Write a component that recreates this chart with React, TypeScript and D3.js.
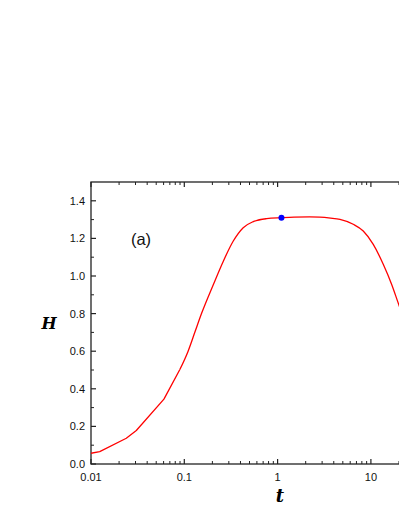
import React from "react";
import * as d3 from "d3";

// curve H(t)
const tValues = [0.01, 0.0124, 0.0239, 0.0306, 0.0605, 0.0893, 0.1096, 0.13, 0.154, 0.205, 0.262, 0.335, 0.428, 0.548, 0.762, 1.1, 1.5, 2.2, 2.84, 3.7, 4.66, 6.47, 8.28, 10.6, 13.6, 16.7, 19.6, 24];
const hValues = [0.057, 0.066, 0.137, 0.178, 0.345, 0.501, 0.599, 0.702, 0.804, 0.955, 1.079, 1.186, 1.257, 1.289, 1.305, 1.31, 1.313, 1.314, 1.313, 1.308, 1.301, 1.275, 1.239, 1.168, 1.061, 0.955, 0.857, 0.735];
// below this t the trace is a plain polyline
const tSmoothFrom = 0.0893;

// highlighted point
const markT = [1.1];
const markH = [1.31];

// axes
const xMajor = [0.01, 0.1, 1, 10];
const xLabels = ["0.01", "0.1", "1", "10"];
const xLimits = [0.01, 40];
const yMajor = [0, 0.2, 0.4, 0.6, 0.8, 1.0, 1.2, 1.4];
const yLimits = [0, 1.5];

export default function App() {
  const width = 399;
  const height = 516;
  const left = 91;
  const top = 182;
  const bottom = 464;
  const decade = 93.3;

  const x = d3
    .scaleLog()
    .domain(xLimits)
    .range([left, left + decade * Math.log10(xLimits[1] / xLimits[0])]);
  const y = d3.scaleLinear().domain(yLimits).range([bottom, top]);
  const right = x(xLimits[1]);

  // minor ticks 2..9 in each decade
  const xMinor: number[] = [];
  xMajor.forEach((m) => {
    for (let k = 2; k <= 9; k++) if (m * k < xLimits[1]) xMinor.push(m * k);
  });
  const yMinor = d3.range(0.1, 1.5, 0.2);

  const data = tValues.map((t, i) => [t, hValues[i]] as [number, number]);
  const lowPart = data.filter((d) => d[0] <= tSmoothFrom);
  const highPart = data.filter((d) => d[0] >= tSmoothFrom);
  const linear = d3
    .line<[number, number]>()
    .x((d) => x(d[0]))
    .y((d) => y(d[1]));
  const smooth = d3
    .line<[number, number]>()
    .x((d) => x(d[0]))
    .y((d) => y(d[1]))
    .curve(d3.curveMonotoneX);

  const axisColor = "#222";
  const font = "Arial, 'Liberation Sans', sans-serif";
  const serif = "'DejaVu Serif', 'Liberation Serif', serif";

  return (
    <svg
      width={width}
      height={height}
      style={{ position: "absolute", left: 0, top: 0, background: "#fff" }}
    >
      <defs>
        <clipPath id="plot">
          <rect x={left} y={top} width={right - left} height={bottom - top} />
        </clipPath>
      </defs>

      {/* frame */}
      <rect x={left} y={top} width={right - left} height={bottom - top} fill="none" stroke={axisColor} strokeWidth={1.3} />

      {/* x ticks, bottom and top, inward */}
      {xMajor.map((v) => (
        <g key={"xM" + v}>
          <line x1={x(v)} x2={x(v)} y1={bottom} y2={bottom - 5} stroke={axisColor} strokeWidth={1.2} />
          <line x1={x(v)} x2={x(v)} y1={top} y2={top + 5} stroke={axisColor} strokeWidth={1.2} />
        </g>
      ))}
      {xMinor.map((v) => (
        <g key={"xm" + v}>
          <line x1={x(v)} x2={x(v)} y1={bottom} y2={bottom - 3} stroke={axisColor} strokeWidth={1} />
          <line x1={x(v)} x2={x(v)} y1={top} y2={top + 3} stroke={axisColor} strokeWidth={1} />
        </g>
      ))}
      {xMajor.map((v, i) => (
        <text key={"xl" + v} x={x(v)} y={bottom + 17} textAnchor="middle" fontFamily={font} fontSize={11} fill="#111">
          {xLabels[i]}
        </text>
      ))}

      {/* y ticks, inward */}
      {yMajor.map((v) => (
        <g key={"yM" + v}>
          <line x1={left} x2={left + 5} y1={y(v)} y2={y(v)} stroke={axisColor} strokeWidth={1.2} />
          <text x={left - 6} y={y(v) + 4} textAnchor="end" fontFamily={font} fontSize={11} fill="#111">
            {v.toFixed(1)}
          </text>
        </g>
      ))}
      {yMinor.map((v) => (
        <line key={"ym" + v} x1={left} x2={left + 3} y1={y(v)} y2={y(v)} stroke={axisColor} strokeWidth={1} />
      ))}

      {/* axis titles */}
      <text x={49} y={329} textAnchor="middle" fontFamily={serif} fontStyle="italic" fontWeight="bold" fontSize={16}>
        H
      </text>
      <text x={280} y={502} textAnchor="middle" fontFamily={serif} fontStyle="italic" fontWeight="bold" fontSize={18}>
        t
      </text>

      <text x={141} y={245} textAnchor="middle" fontFamily={font} fontSize={16.5} fill="#111">
        (a)
      </text>

      <g clipPath="url(#plot)">
        <path d={linear(lowPart) ?? ""} fill="none" stroke="#ff0000" strokeWidth={1.3} strokeLinejoin="round" />
        <path d={smooth(highPart) ?? ""} fill="none" stroke="#ff0000" strokeWidth={1.3} />
        {markT.map((t, i) => (
          <circle key={"p" + i} cx={x(t)} cy={y(markH[i])} r={3} fill="#0000ff" />
        ))}
      </g>
    </svg>
  );
}
